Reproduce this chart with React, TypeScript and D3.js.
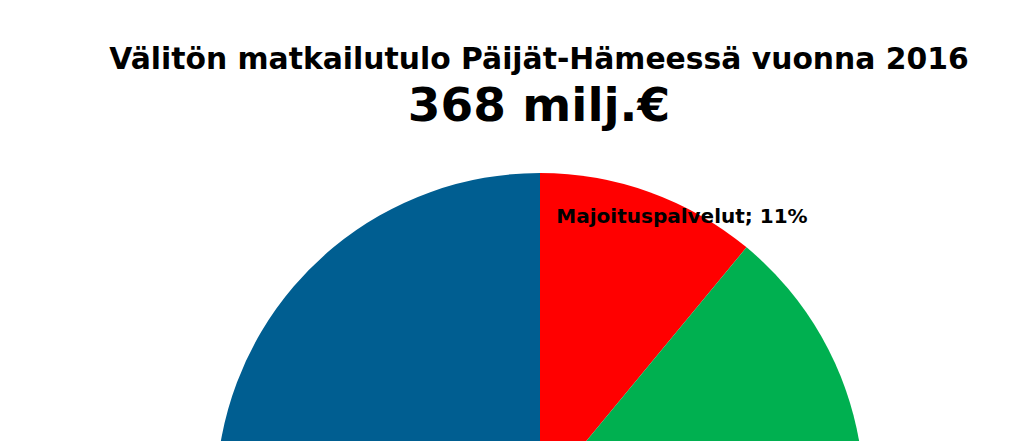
import React from "react";
import * as d3 from "d3";

const categories = [
  "Majoituspalvelut",
  "Ravitsemispalvelut",
  "Ohjelmapalvelut",
  "Liikenne",
  "Vähittäiskauppa",
];
const shares = [11, 23, 9, 13, 44];
const colors = ["#FF0000", "#00B050", "#F5A623", "#7F7F7F", "#005E91"];
const title = "Välitön matkailutulo Päijät-Hämeessä vuonna 2016";
const subtitle = "368 milj.€";

export default function App() {
  const W = 1024;
  const H = 441;
  const cx = 540;
  const cy = 497;
  const r = 324;
  const pie = d3.pie<number>().sort(null).value((d) => d);
  const arcs = pie(shares);
  const arcGen = d3.arc<d3.PieArcDatum<number>>().innerRadius(0).outerRadius(r);
  const font = "'DejaVu Sans', Verdana, sans-serif";
  return (
    <svg
      width={W}
      height={H}
      style={{ position: "absolute", left: 0, top: 0, background: "#fff" }}
    >
      <text x={539} y={69} textAnchor="middle" fontFamily={font} fontWeight="bold" fontSize={29.8} fill="#000">
        {title}
      </text>
      <text x={539} y={121} textAnchor="middle" fontFamily={font} fontWeight="bold" fontSize={47} fill="#000">
        {subtitle}
      </text>
      <g transform={`translate(${cx},${cy})`}>
        {arcs.map((a, i) => (
          <path key={i} d={arcGen(a) || ""} fill={colors[i]} />
        ))}
        <text x={682 - cx} y={223 - cy} textAnchor="middle" fontFamily={font} fontWeight="bold" fontSize={20} fill="#000">
          {`${categories[0]}; ${shares[0]}%`}
        </text>
      </g>
    </svg>
  );
}
